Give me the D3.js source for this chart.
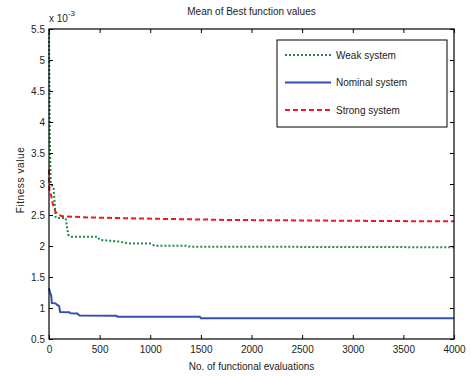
<!DOCTYPE html>
<html>
<head>
<meta charset="utf-8">
<script src="https://cdn.jsdelivr.net/npm/d3@7"></script>
<style>
  body { margin: 0; background: #fff; }
  svg { display: block; font-family: "Liberation Sans", Arial, sans-serif; }
</style>
</head>
<body>
<div id="chart"></div>
<script>
// Mean of Best function values (x 10^-3)
const xTicks = [0, 500, 1000, 1500, 2000, 2500, 3000, 3500, 4000];
const yTicks = [0.5, 1, 1.5, 2, 2.5, 3, 3.5, 4, 4.5, 5, 5.5];

// [evaluations, fitness]
const weakSeries = [
  [0, 5.5], [8, 3.72], [17, 3.0], [45, 2.95], [65, 2.47], [75, 2.45],
  [165, 2.45], [190, 2.18], [215, 2.15], [480, 2.15], [500, 2.10],
  [700, 2.07], [780, 2.04], [1000, 2.04], [1020, 2.02], [1050, 2.005],
  [1360, 2.005], [1380, 1.99], [4000, 1.98]
];
const nominalSeries = [
  [0, 1.32], [12, 1.24], [22, 1.20], [28, 1.08], [65, 1.075], [80, 1.05],
  [100, 1.03], [110, 0.935], [200, 0.93], [215, 0.915], [280, 0.91],
  [300, 0.88], [660, 0.875], [680, 0.86], [1490, 0.86], [1500, 0.835],
  [4000, 0.835]
];
const strongSeries = [
  [0, 3.23], [5, 2.88], [20, 2.82], [40, 2.66], [65, 2.55], [100, 2.50],
  [130, 2.48], [400, 2.46], [1020, 2.44], [1780, 2.42], [3620, 2.40],
  [4000, 2.40]
];
const seriesNames = ["Weak system", "Nominal system", "Strong system"];

const width = 471, height = 377;
const margin = { top: 29, right: 17, bottom: 38, left: 49 };
const innerW = width - margin.left - margin.right;
const innerH = height - margin.top - margin.bottom;

const svg = d3.select("#chart").append("svg")
  .attr("width", width)
  .attr("height", height);

const g = svg.append("g").attr("transform", `translate(${margin.left},${margin.top})`);

const x = d3.scaleLinear().domain([0, 4000]).range([0, innerW]);
const y = d3.scaleLinear().domain([0.5, 5.5]).range([innerH, 0]);

const styles = [
  { data: weakSeries, color: "#1e8a45", dash: "2,2", width: 2 },
  { data: nominalSeries, color: "#3350b0", dash: null, width: 2 },
  { data: strongSeries, color: "#f0181f", dash: "5,3", width: 2 }
];

const line = d3.line().x(d => x(d[0])).y(d => y(d[1]));

styles.forEach(s => {
  g.append("path")
    .datum(s.data)
    .attr("fill", "none")
    .attr("stroke", s.color)
    .attr("stroke-width", s.width)
    .attr("stroke-dasharray", s.dash)
    .attr("d", line);
});

// axes (matlab style, ticks inside)
const fmt = d => String(d);
function styleAxis(sel) {
  sel.select(".domain").remove();
  sel.selectAll("line").attr("stroke", "#000");
  sel.selectAll("text").attr("fill", "#222").style("font-size", "10px");
}
g.append("g").attr("transform", `translate(0,${innerH})`)
  .call(d3.axisBottom(x).tickValues(xTicks).tickFormat(fmt).tickSize(-4).tickPadding(7))
  .call(styleAxis);
g.append("g")
  .call(d3.axisTop(x).tickValues(xTicks).tickFormat("").tickSize(-4))
  .call(styleAxis);
g.append("g")
  .call(d3.axisLeft(y).tickValues(yTicks).tickFormat(fmt).tickSize(-4).tickPadding(4))
  .call(styleAxis);
g.append("g").attr("transform", `translate(${innerW},0)`)
  .call(d3.axisRight(y).tickValues(yTicks).tickFormat("").tickSize(-4))
  .call(styleAxis);

g.append("rect")
  .attr("width", innerW).attr("height", innerH)
  .attr("fill", "none").attr("stroke", "#000").attr("stroke-width", 1.2);

// exponent label
const exp = svg.append("text")
  .attr("x", margin.left).attr("y", 22)
  .style("font-size", "10px").attr("fill", "#222");
exp.append("tspan").text("x 10");
exp.append("tspan").attr("dy", -6).style("font-size", "8px").text("-3");

// title and axis labels
svg.append("text")
  .attr("x", margin.left + innerW / 2).attr("y", 15)
  .attr("text-anchor", "middle")
  .style("font-size", "10px").attr("fill", "#222")
  .text("Mean of Best function values");

svg.append("text")
  .attr("x", margin.left + innerW / 2).attr("y", 370)
  .attr("text-anchor", "middle")
  .style("font-size", "10px").attr("fill", "#222")
  .text("No. of functional evaluations");

svg.append("text")
  .attr("transform", `translate(24,${margin.top + innerH / 2 - 4}) rotate(-90)`)
  .attr("text-anchor", "middle")
  .style("font-size", "10px").style("letter-spacing", "0.6px").attr("fill", "#222")
  .text("Fitness value");

// legend
const legend = svg.append("g").attr("transform", "translate(277,40)");
legend.append("rect")
  .attr("width", 170).attr("height", 87)
  .attr("fill", "#fff").attr("stroke", "#000").attr("stroke-width", 1);
seriesNames.forEach((name, i) => {
  const s = styles[i];
  const ly = 15 + i * 27.5;
  legend.append("line")
    .attr("x1", 8).attr("x2", 54).attr("y1", ly).attr("y2", ly)
    .attr("stroke", s.color).attr("stroke-width", s.width)
    .attr("stroke-dasharray", s.dash);
  legend.append("text")
    .attr("x", 59).attr("y", ly + 3.5)
    .style("font-size", "10px").attr("fill", "#222")
    .text(name);
});
</script>
</body>
</html>
